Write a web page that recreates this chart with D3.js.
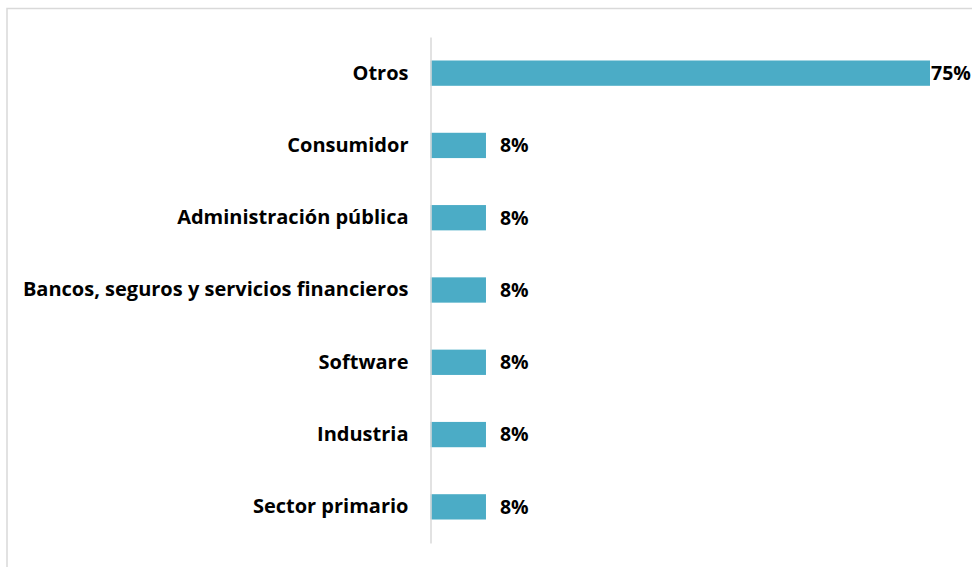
<!DOCTYPE html>
<html><head><meta charset="utf-8">
<script src="https://cdn.jsdelivr.net/npm/d3@7"></script>
<style>html,body{margin:0;padding:0;background:#fff;}svg{display:block;}</style>
</head><body>
<svg id="c" width="972" height="567"></svg>
<script>
const categories = ["Otros","Consumidor","Administración pública","Bancos, seguros y servicios financieros","Software","Industria","Sector primario"];
const values = [75, 8.33, 8.33, 8.33, 8.33, 8.33, 8.33];
const valueLabels = ["75%","8%","8%","8%","8%","8%","8%"];

const svg = d3.select("#c");
const W = 972, H = 567;
const font = "'Open Sans', Lato, sans-serif";

// chart frame
svg.append("rect").attr("x",7).attr("y",8.5).attr("width",W+20).attr("height",H+20)
  .attr("fill","none").attr("stroke","#d9d9d9").attr("stroke-width",1.5);

const x0 = 430.5;
const x = d3.scaleLinear().domain([0,75]).range([x0, 930]);
const y = d3.scaleBand().domain(categories).range([37,543]).paddingInner(0.65).paddingOuter(0.325);

svg.selectAll("rect.bar").data(categories).join("rect").attr("class","bar")
  .attr("x", x0).attr("y", d=>y(d))
  .attr("width", (d,i)=>x(values[i])-x0).attr("height", y.bandwidth())
  .attr("fill","#4BACC6");

// axis
const yAxis = d3.axisLeft(y).tickSize(0).tickPadding(22);
const g = svg.append("g").attr("transform",`translate(${x0},0)`).call(yAxis);
g.select(".domain").attr("stroke","#d9d9d9").attr("stroke-width",1.5);
g.selectAll("text").attr("font-family",font).attr("font-weight","bold").attr("font-size",20).attr("fill","#000");

// value labels
svg.selectAll("text.val").data(categories).join("text").attr("class","val")
  .attr("font-family",font).attr("font-weight","bold").attr("font-size",19.5).attr("fill","#000")
  .attr("dy","0.35em").attr("y", d=>y(d)+y.bandwidth()/2)
  .text((d,i)=>valueLabels[i])
  .attr("x",function(d,i){
    const w = this.getComputedTextLength();
    const end = x(values[i]);
    return Math.max(end + 1, Math.min(end + 14, W - w - 2));
  });
</script>
</body></html>
